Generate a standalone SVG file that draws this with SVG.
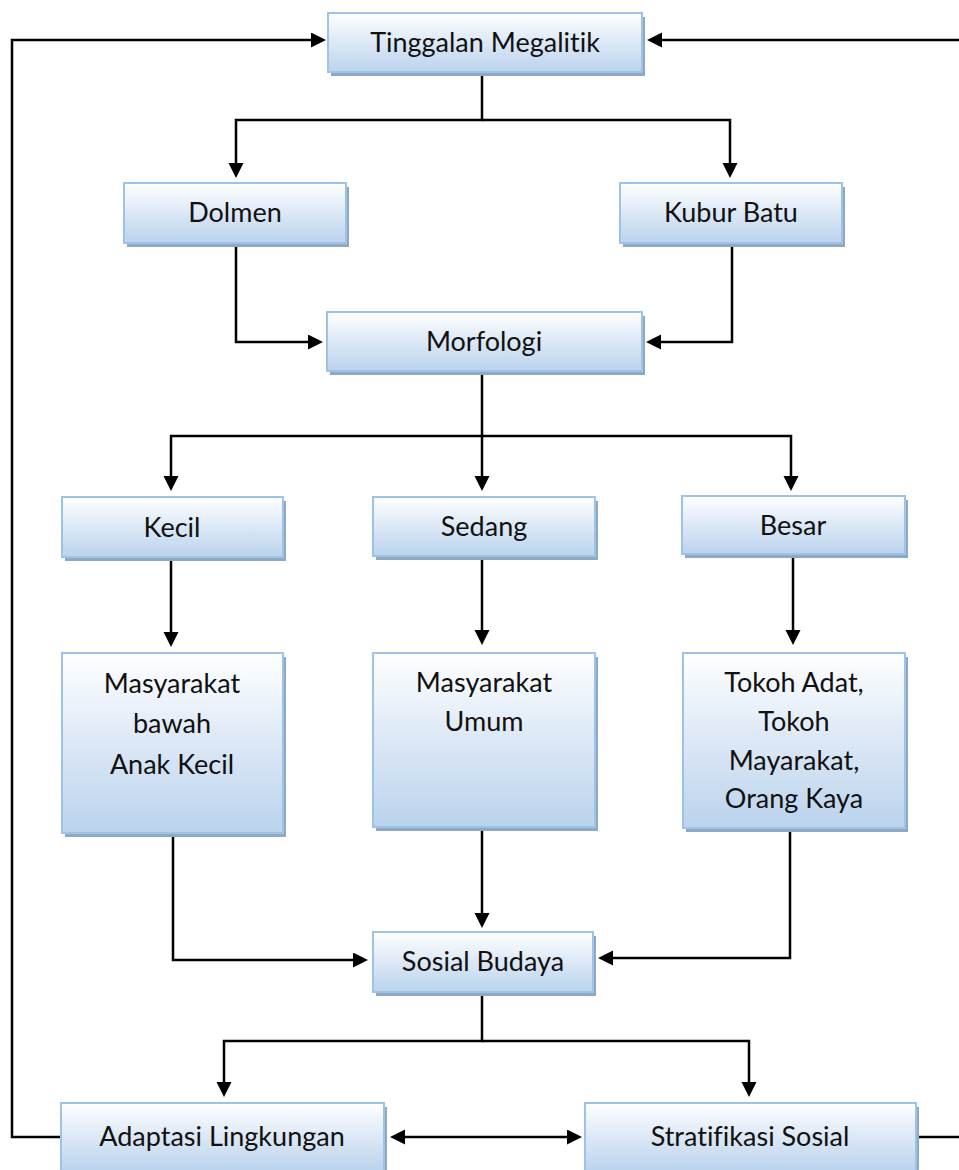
<svg xmlns="http://www.w3.org/2000/svg" width="959" height="1170" viewBox="0 0 959 1170">
<style>
.shadow{fill:#8fa8c4}
.box{fill:url(#g);stroke:#9dc3e6;stroke-width:2}
.t{font-family:Lato,"Open Sans","Liberation Sans",sans-serif;font-size:27px;fill:#111;text-anchor:middle;font-variant-ligatures:none;font-feature-settings:"liga" 0,"dlig" 0}
.c{fill:none;stroke:#000;stroke-width:2.5}
.a{marker-end:url(#arr)}
.b{marker-start:url(#arrs);marker-end:url(#arr)}
</style>
<defs>
<linearGradient id="g" x1="0" y1="0" x2="0" y2="1">
<stop offset="0" stop-color="#ffffff"/>
<stop offset="0.5" stop-color="#dce8f6"/>
<stop offset="1" stop-color="#bad3ed"/>
</linearGradient>
<marker id="arr" markerUnits="userSpaceOnUse" markerWidth="17" markerHeight="16" refX="11" refY="7.5" orient="auto">
<path d="M0,0 L15,7.5 L0,15 z" fill="#000"/>
</marker>
<marker id="arrs" markerUnits="userSpaceOnUse" markerWidth="17" markerHeight="16" refX="11" refY="7.5" orient="auto-start-reverse">
<path d="M0,0 L15,7.5 L0,15 z" fill="#000"/>
</marker>
</defs>
<g id="connectors">
<path class="c a" d="M482,72 V120 H236 V174"/>
<path class="c a" d="M482,120 H730 V174"/>
<path class="c a" d="M236,243 V342 H319"/>
<path class="c a" d="M732,243 V342 H650"/>
<path class="c a" d="M482,371 V436 H171 V487"/>
<path class="c a" d="M482,436 V487"/>
<path class="c a" d="M482,436 H791 V487"/>
<path class="c a" d="M171,557 V643"/>
<path class="c a" d="M482,556 V641"/>
<path class="c a" d="M793,554 V641"/>
<path class="c a" d="M173,833 V960 H364"/>
<path class="c a" d="M482,827 V924"/>
<path class="c a" d="M790,828 V958 H602"/>
<path class="c a" d="M482,992 V1041 H224 V1093"/>
<path class="c a" d="M482,1041 H749 V1093"/>
<path class="c b" d="M394,1137 H578"/>
<path class="c a" d="M61,1137 H12 V40 H322"/>
<path class="c a" d="M916,1137 H970 V40 H651"/>
</g>
<g id="n-tinggalan"><rect class="shadow" x="331" y="17" width="314" height="59"/><rect class="box" x="328" y="13" width="314" height="59"/><text class="t" x="485" y="52">Tinggalan Megalitik</text></g>
<g id="n-dolmen"><rect class="shadow" x="127" y="187" width="222" height="60"/><rect class="box" x="124" y="183" width="222" height="60"/><text class="t" x="235" y="222">Dolmen</text></g>
<g id="n-kubur"><rect class="shadow" x="623" y="187" width="222" height="60"/><rect class="box" x="620" y="183" width="222" height="60"/><text class="t" x="731" y="222">Kubur Batu</text></g>
<g id="n-morfologi"><rect class="shadow" x="330" y="316" width="315" height="59"/><rect class="box" x="327" y="312" width="315" height="59"/><text class="t" x="484" y="351">Morfologi</text></g>
<g id="n-kecil"><rect class="shadow" x="65" y="501" width="221" height="60"/><rect class="box" x="62" y="497" width="221" height="60"/><text class="t" x="172" y="537">Kecil</text></g>
<g id="n-sedang"><rect class="shadow" x="376" y="501" width="222" height="59"/><rect class="box" x="373" y="497" width="222" height="59"/><text class="t" x="484" y="536">Sedang</text></g>
<g id="n-besar"><rect class="shadow" x="685" y="500" width="223" height="58"/><rect class="box" x="682" y="496" width="223" height="58"/><text class="t" x="793" y="535">Besar</text></g>
<g id="n-masyarakat-bawah"><rect class="shadow" x="65" y="657" width="221" height="180"/><rect class="box" x="62" y="653" width="221" height="180"/><text class="t" x="172" y="693">Masyarakat</text><text class="t" x="172" y="733">bawah</text><text class="t" x="172" y="774">Anak Kecil</text></g>
<g id="n-masyarakat-umum"><rect class="shadow" x="376" y="657" width="222" height="174"/><rect class="box" x="373" y="653" width="222" height="174"/><text class="t" x="484" y="692">Masyarakat</text><text class="t" x="484" y="731">Umum</text></g>
<g id="n-tokoh"><rect class="shadow" x="686" y="657" width="222" height="175"/><rect class="box" x="683" y="653" width="222" height="175"/><text class="t" x="794" y="692">Tokoh Adat,</text><text class="t" x="794" y="731">Tokoh</text><text class="t" x="794" y="770">Mayarakat,</text><text class="t" x="794" y="808">Orang Kaya</text></g>
<g id="n-sosial"><rect class="shadow" x="376" y="936" width="220" height="60"/><rect class="box" x="373" y="932" width="220" height="60"/><text class="t" x="483" y="971">Sosial Budaya</text></g>
<g id="n-adaptasi"><rect class="shadow" x="64" y="1107" width="323" height="68"/><rect class="box" x="61" y="1103" width="323" height="68"/><text class="t" x="222" y="1146">Adaptasi Lingkungan</text></g>
<g id="n-stratifikasi"><rect class="shadow" x="588" y="1107" width="331" height="68"/><rect class="box" x="585" y="1103" width="331" height="68"/><text class="t" x="750" y="1146">Stratifikasi Sosial</text></g>
</svg>
